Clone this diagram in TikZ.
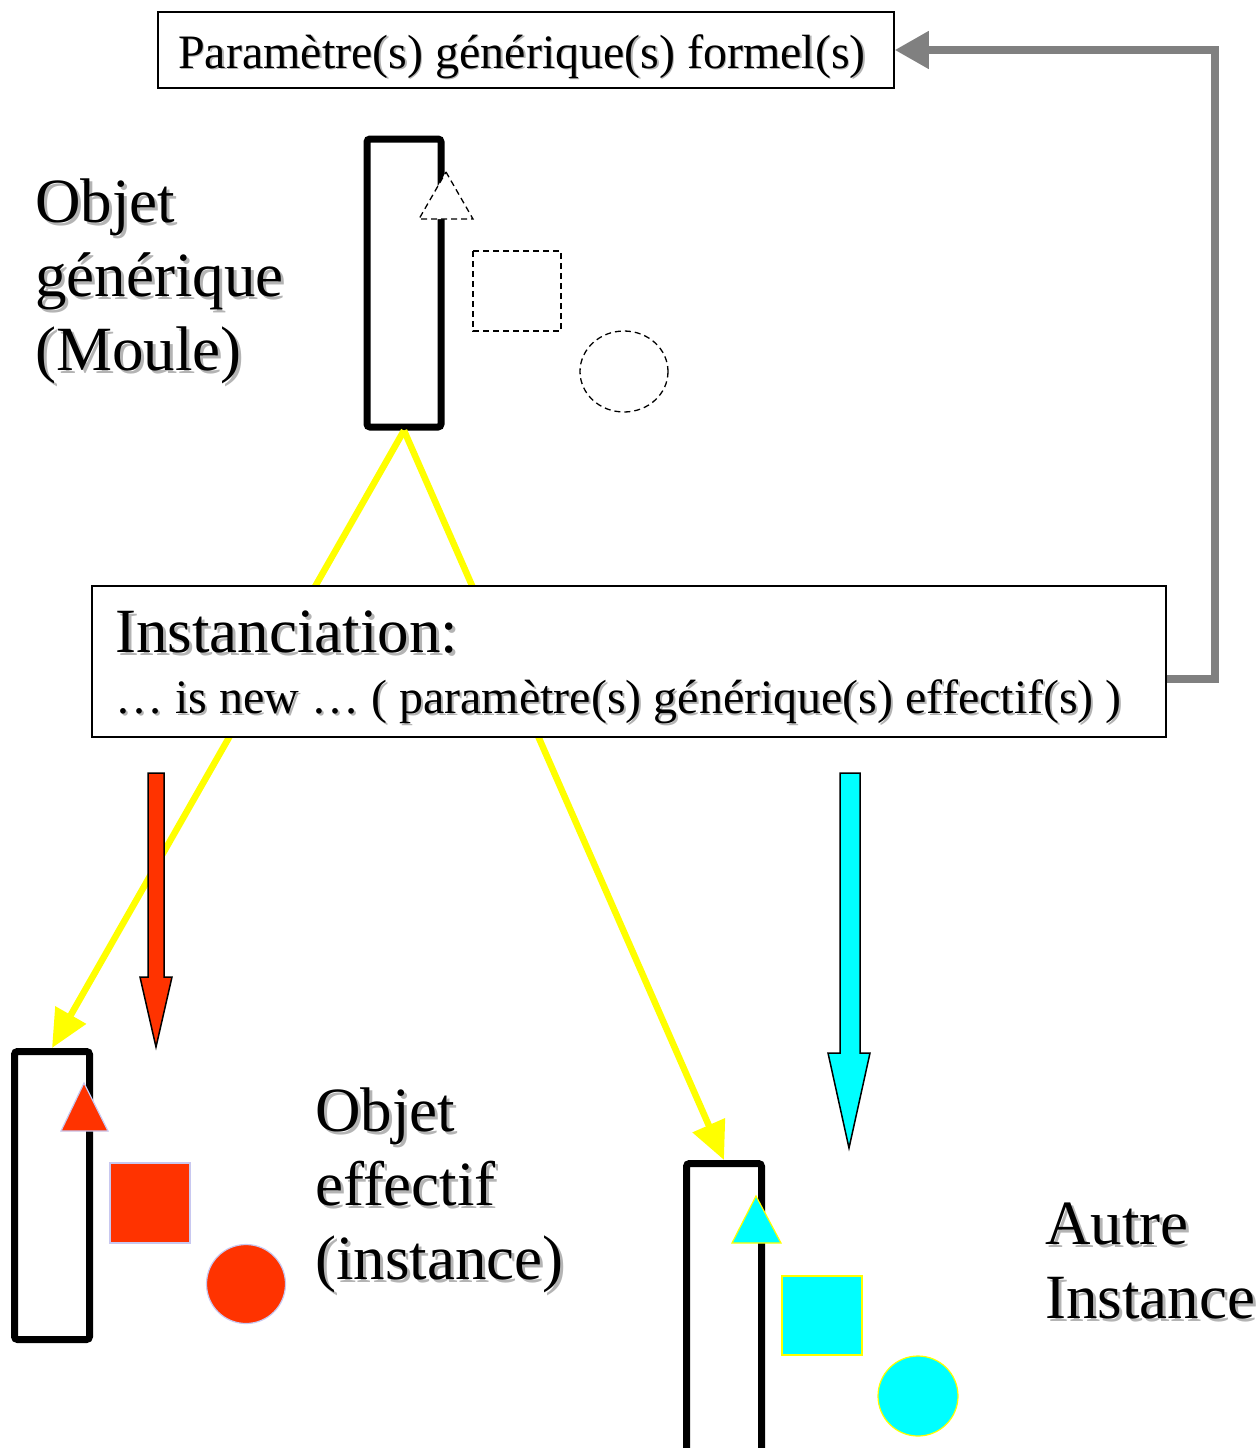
\documentclass[tikz,border=0pt]{standalone}
\usepackage{fontspec}
\setmainfont{Liberation Serif}
\usetikzlibrary{arrows.meta}

\definecolor{shadowgrey}{HTML}{B4B4B4}
\definecolor{connGrey}{HTML}{808080}
\definecolor{redfill}{HTML}{FF3300}
\definecolor{cyanfill}{HTML}{00FFFF}
\definecolor{pureyellow}{HTML}{FFFF00}
\definecolor{lavender}{HTML}{C8C8F0}

% text with a light grey drop shadow; #1 = offset
\newcommand\shtext[2]{\makebox[0pt][l]{\kern#1\raisebox{-#1}{\color{shadowgrey}#2}}#2}

\begin{document}
\begin{tikzpicture}[x=1pt,y=-1pt,
  frame/.style={draw=black, line width=1.5pt, fill=white, inner sep=0pt},
  mould/.style={draw=black, line width=7pt, rounded corners=3pt, inner sep=0pt,
                minimum width=75pt},
  biglabel/.style={anchor=base west, inner sep=0pt, font=\fontsize{63}{74}\selectfont},
  smalllabel/.style={anchor=base west, inner sep=0pt, font=\fontsize{48}{56}\selectfont},
  yel/.style={draw=pureyellow, line width=6.5pt, -{Triangle[length=38pt,width=34pt]}},
  conn/.style={draw=connGrey, line width=7.5pt, -{Triangle[length=34pt,width=36pt]}},
  ghost/.style={draw=black, line width=1.3pt, dash pattern=on 6pt off 4pt, fill=white},
  blockarrow/.style={draw=black, line width=1.5pt, line join=miter},
  redpart/.style={fill=redfill, draw=lavender, line width=1.2pt},
  cyanpart/.style={fill=cyanfill, draw=pureyellow, line width=1.2pt},
]
\useasboundingbox (0,0) rectangle (1259,1448);
\clip (0,0) rectangle (1259,1448);

% the three objects (generic mould and two instances)
\node[mould, minimum width=74pt, minimum height=288pt] (gen) at (404,283) {};
\node[mould, minimum height=288pt] (instL) at (52,1195.5) {};
\node[mould, minimum height=316.5pt] (instR) at (724,1321.75) {};

% instantiation lines from the mould to each instance
\draw[yel] (gen.south) -- (instL.north);
\draw[yel] (gen.south) -- (instR.north);

% boxes
\node[frame, minimum width=736pt, minimum height=76pt] (param) at (526,50) {};
\node[smalllabel] (paramtxt) at (178,68) {\shtext{1.5pt}{Paramètre(s) générique(s) formel(s)}};

\node[frame, minimum width=1074pt, minimum height=151pt] (inst) at (629,661.5) {};
\node[biglabel] (insttitle) at (115,652) {\shtext{3pt}{Instanciation:}};
\node[smalllabel] (instline) at (115,713) {\shtext{2pt}{… is new … ( paramètre(s) générique(s) effectif(s) )}};

% feedback connector to the formal parameters
\draw[conn] ([yshift=-17.5pt]inst.east) -- ++(48,0) coordinate (bend) |- (param.east);

% formal parameters (dashed placeholders)
\draw[ghost] (446,172) -- (473,219) -- (419,219) -- cycle;
\draw[ghost] (473,251) rectangle (561,331);
\draw[ghost] (624,371.5) ellipse [x radius=44, y radius=40.5];

% effective parameters, first instance
\draw[redpart] (84,1083) -- (108,1131) -- (61,1131) -- cycle;
\draw[redpart] (110,1163) rectangle (190,1243);
\draw[redpart] (246,1284) circle [radius=39.5];

% effective parameters, second instance
\draw[cyanpart] (756,1196) -- (781,1243) -- (732,1243) -- cycle;
\draw[cyanpart] (782,1276) rectangle (862,1355);
\draw[cyanpart] (918,1396) circle [radius=40];

% block arrows
\draw[blockarrow, fill=redfill] (148,773) -- (164,773) -- (164,977) -- (172,977)
  -- (156,1047) -- (140,977) -- (148,977) -- cycle;
\draw[blockarrow, fill=cyanfill] (840,773) -- (860,773) -- (860,1053) -- (870,1053)
  -- (849,1148) -- (828,1053) -- (840,1053) -- cycle;

% labels
\node[biglabel] (genA) at (35,222) {\shtext{3pt}{Objet}};
\node[biglabel] (genB) at (35,296) {\shtext{3pt}{générique}};
\node[biglabel] (genC) at (35,370) {\shtext{3pt}{(Moule)}};

\node[biglabel] (effA) at (315,1131) {\shtext{3pt}{Objet}};
\node[biglabel] (effB) at (315,1205) {\shtext{3pt}{effectif}};
\node[biglabel] (effC) at (315,1279) {\shtext{3pt}{(instance)}};

\node[biglabel] (autA) at (1045,1244) {\shtext{3pt}{Autre}};
\node[biglabel] (autB) at (1045,1318) {\shtext{3pt}{Instance}};
\end{tikzpicture}
\end{document}
